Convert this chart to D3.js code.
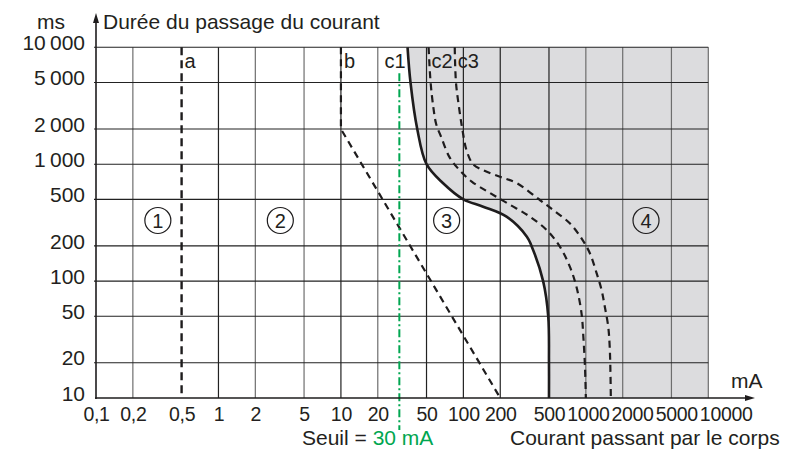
<!DOCTYPE html>
<html><head><meta charset="utf-8">
<script src="https://cdn.jsdelivr.net/npm/d3@7"></script>
<style>
html,body{margin:0;padding:0;background:#fff;}
svg text{font-family:"Liberation Sans",Arial,Helvetica,sans-serif;fill:#231f20;}
</style></head><body>
<svg id="chart" width="787" height="449"></svg>
<script>
// ---- data ----
const xTicks = [0.1,0.2,0.5,1,2,5,10,20,50,100,200,500,1000,2000,5000,10000];
const xTickLabels = ["0,1","0,2","0,5","1","2","5","10","20","50","100","200","500","1000","2000","5000","10000"];
const xGrid = [0.2,1,2,5,10,20,50,100,200,500,1000,2000,5000,10000];
const xGridDark = [1,10,50,100,200,500];
const yTicks = [10,20,50,100,200,500,1000,2000,5000,10000];
const yTickLabels = ["10","20","50","100","200","500","1\u2009000","2\u2009000","5\u2009000","10\u2009000"];

const curveA  = [[0.5,10000],[0.5,10]];
const curveB  = [[10,10000],[10,2000],[200,10]];
const curveC1 = [[35,10000],[37,5000],[42,2000],[50,1000],[68,690],[100,500],[145,433],[225,356],[330,240],[360,200],[448,100],[493,50],[500,20],[500,10]];
const curveC2 = [[52,10000],[54,5000],[57,3000],[60,2200],[66,1700],[77,1150],[93,890],[117,710],[159,580],[240,450],[349,356],[478,274],[614,197],[740,133],[839,89],[922,53],[955,33],[985,18],[1000,10]];
const curveC3 = [[85,10000],[87,5000],[92,3100],[98,2000],[106,1320],[120,1000],[145,890],[199,780],[272,690],[421,494],[541,406],[740,312],[922,232],[1079,173],[1224,117],[1344,84],[1430,60],[1522,41],[1570,26],[1600,10]];

const curveLabels = ["a","b","c1","c2","c3"];
const curveLabelX = [0.5,10,35,52,85];
const zoneLabels = ["1","2","3","4"];
const zoneX = [0.32,3.2,73,3100];
const zoneY = 330;
const seuil = 30;

// ---- scales ----
const x = d3.scaleLog().domain([0.1,10000]).range([96,708.3]);
const y = d3.scaleLog().domain([10,10000]).range([398,47.3]);
const svg = d3.select("#chart");
const ink = "#1e1c1d";
const smooth = d3.curveCatmullRom.alpha(0.5);

// zone 4 shading
svg.append("path").datum(curveC1)
  .attr("d", d3.area().curve(smooth).y(d=>y(d[1])).x0(d=>x(d[0])).x1(x(10000)))
  .attr("fill","#dcdcde");

// grid
svg.append("g").selectAll("line").data(xGrid).join("line")
  .attr("x1",d=>x(d)).attr("x2",d=>x(d)).attr("y1",y(10)).attr("y2",y(10000))
  .attr("stroke",d=>xGridDark.includes(d)?"#222":"#6e6e6e").attr("stroke-width",1.2);
svg.append("g").selectAll("line").data(yTicks.slice(1)).join("line")
  .attr("x1",x(0.1)-2).attr("x2",x(10000)).attr("y1",d=>y(d)).attr("y2",d=>y(d))
  .attr("stroke","#222").attr("stroke-width",1.1);

// curves
const line = d3.line().x(d=>x(d[0])).y(d=>y(d[1]));
const lineS = d3.line().curve(smooth).x(d=>x(d[0])).y(d=>y(d[1]));
svg.append("path").datum(curveA).attr("d",line).attr("fill","none").attr("stroke",ink).attr("stroke-width",2.4).attr("stroke-dasharray","8,5");
svg.append("path").datum(curveB).attr("d",line).attr("fill","none").attr("stroke",ink).attr("stroke-width",2.2).attr("stroke-dasharray","7,5");
svg.append("path").datum(curveC2).attr("d",lineS).attr("fill","none").attr("stroke",ink).attr("stroke-width",2.2).attr("stroke-dasharray","7,5");
svg.append("path").datum(curveC3).attr("d",lineS).attr("fill","none").attr("stroke",ink).attr("stroke-width",2.2).attr("stroke-dasharray","7,5");
svg.append("path").datum(curveC1).attr("d",lineS).attr("fill","none").attr("stroke",ink).attr("stroke-width",2.6);

// threshold line
svg.append("line").attr("x1",x(seuil)).attr("x2",x(seuil)).attr("y1",y(6000)).attr("y2",430)
  .attr("stroke","#00a650").attr("stroke-width",2).attr("stroke-dasharray","8,3,2,3");

// curve labels
svg.append("g").selectAll("text").data(curveLabels).join("text")
  .attr("x",(d,i)=>x(curveLabelX[i]) + (d==="c1" ? -2 : 3))
  .attr("text-anchor",d=>d==="c1"?"end":"start")
  .attr("y",68).attr("font-size",20).text(d=>d);

// zone markers
const zg = svg.append("g").selectAll("g").data(zoneLabels).join("g")
  .attr("transform",(d,i)=>`translate(${x(zoneX[i])},${y(zoneY)})`);
zg.append("circle").attr("r",13).attr("fill","none").attr("stroke",ink).attr("stroke-width",1.2);
zg.append("text").attr("text-anchor","middle").attr("dy","0.36em").attr("font-size",20).text(d=>d);

// axes
const yAxis = svg.append("g").attr("transform",`translate(${x(0.1)},0)`)
  .call(d3.axisLeft(y).tickValues(yTicks).tickFormat((d,i)=>yTickLabels[i]).tickSize(0).tickPadding(11));
yAxis.select(".domain").remove();
yAxis.selectAll("text").attr("font-size",21).attr("dy","0.1em").style("font-family",null).attr("fill",ink);

const xAxis = svg.append("g").attr("transform",`translate(0,${y(10)})`)
  .call(d3.axisBottom(x).tickValues(xTicks).tickFormat((d,i)=>xTickLabels[i]).tickSize(0).tickPadding(9.5));
xAxis.select(".domain").remove();
xAxis.selectAll("text").attr("font-size",19.5).attr("letter-spacing","-0.3").attr("fill",ink);
// push overlapping labels to the right
let prevEnd = -Infinity;
xAxis.selectAll(".tick").each(function(d){
  const t = d3.select(this).select("text");
  const w = t.node().getComputedTextLength();
  let start = x(d) - w/2;
  if (start < prevEnd + 2) start = prevEnd + 2;
  t.attr("x", start - x(d) + w/2);
  prevEnd = start + w;
});
xAxis.selectAll("text").attr("text-anchor","middle");

// axis lines with arrows
svg.append("line").attr("x1",x(0.1)).attr("x2",x(0.1)).attr("y1",y(10)+1).attr("y2",20).attr("stroke",ink).attr("stroke-width",1.6);
svg.append("path").attr("d",`M${x(0.1)},13 L${x(0.1)-3},23 L${x(0.1)+3},23 Z`).attr("fill",ink);
svg.append("line").attr("x1",x(0.1)-1).attr("x2",748).attr("y1",y(10)).attr("y2",y(10)).attr("stroke",ink).attr("stroke-width",1.6);
svg.append("path").attr("d",`M755,${y(10)} L745,${y(10)-3} L745,${y(10)+3} Z`).attr("fill",ink);

// titles
svg.append("text").attr("x",37).attr("y",29).attr("font-size",21).text("ms");
svg.append("text").attr("x",103).attr("y",29).attr("font-size",21).text("Durée du passage du courant");
svg.append("text").attr("x",731).attr("y",388).attr("font-size",21).text("mA");
const s = svg.append("text").attr("x",302).attr("y",445).attr("font-size",21);
s.append("tspan").text("Seuil = ");
s.append("tspan").attr("fill","#00a650").style("fill","#00a650").text("30 mA");
svg.append("text").attr("x",510).attr("y",445).attr("font-size",21).text("Courant passant par le corps");
</script>
</body></html>
